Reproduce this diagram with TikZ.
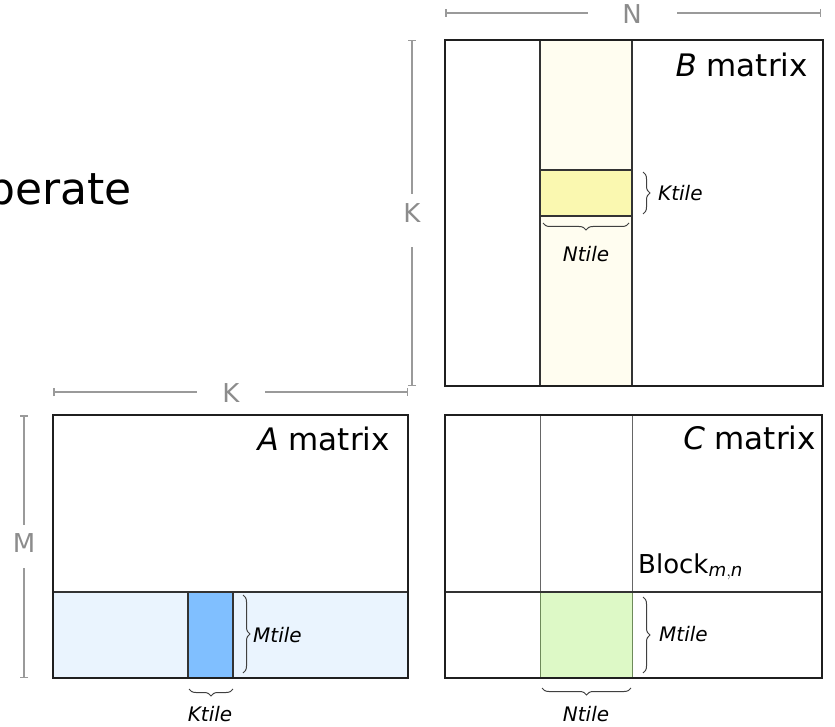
\documentclass[tikz,border=0pt]{standalone}
\usepackage{fontspec}
\setmainfont{DejaVu Sans}
\usetikzlibrary{decorations.pathreplacing,arrows.meta}
\definecolor{dimgray}{HTML}{9A9A9A}
\definecolor{dimtxt}{HTML}{8C8C8C}
\definecolor{bstripe}{HTML}{FFFDF0}
\definecolor{yellowblk}{HTML}{FAF8B0}
\definecolor{astripe}{HTML}{EAF4FE}
\definecolor{blueblk}{HTML}{80BFFF}
\definecolor{greenblk}{HTML}{DDF9C6}
\definecolor{greenedge}{HTML}{6E8A5A}
\begin{document}
\begin{tikzpicture}[x=1pt,y=-1pt,
  frame/.style={draw=black!88, line width=2pt},
  inner/.style={draw=black!80, line width=1.4pt},
  thinline/.style={draw=black!60, line width=0.9pt},
  dimline/.style={draw=dimgray, line width=1.5pt, {Bar[width=8pt,line width=1.5pt]}-},
  dimtext/.style={text=dimtxt, font=\fontsize{26}{26}\selectfont, inner sep=0pt},
  mlabel/.style={font=\fontsize{31}{31}\selectfont, inner sep=0pt, anchor=base east},
  tbrace/.style={decorate, decoration={brace, amplitude=7pt}, draw=black!75, line width=1pt},
  tlabel/.style={font=\fontsize{20}{20}\selectfont\itshape, inner sep=0pt}]
\useasboundingbox (0,0) rectangle (835,727);

% ---- big text fragment
\node[font=\fontsize{44}{44}\selectfont, inner sep=0pt, anchor=base west] (frag) at (-13,205) {perate};

% ---- B matrix
\fill[bstripe] (540,40) rectangle (632,386);
\draw[inner] (540,40) -- (540,386);
\draw[inner] (632,40) -- (632,386);
\draw[inner, fill=yellowblk] (540,170) rectangle (632,216);
\draw[frame] (445,40) rectangle (823,386);
\node[mlabel] (Blab) at (808,77) {\textit{B} matrix};

\coordinate (kb1) at (643,172); \coordinate (kb2) at (643,214);
\draw[tbrace] (kb1) -- (kb2);
\node[tlabel, anchor=base west] (BK) at (658,201) {Ktile};
\coordinate (nb1) at (629,223); \coordinate (nb2) at (543,223);
\draw[tbrace] (nb1) -- (nb2);
\node[tlabel, anchor=base] (BN) at (586,262) {Ntile};

% ---- A matrix
\fill[astripe] (53,592) rectangle (408,678);
\draw[inner] (53,592) -- (408,592);
\draw[inner, fill=blueblk] (188,592) rectangle (233,678);
\draw[frame] (53,415) rectangle (408,678);
\node[mlabel] (Alab) at (390,450) {\textit{A} matrix};

\coordinate (ma1) at (243,595); \coordinate (ma2) at (243,673);
\draw[tbrace] (ma1) -- (ma2);
\node[tlabel, anchor=base west] (AM) at (253,642) {Mtile};
\coordinate (ka1) at (233,689); \coordinate (ka2) at (189,689);
\draw[tbrace] (ka1) -- (ka2);
\node[tlabel, anchor=base] (AK) at (210,721) {Ktile};

% ---- C matrix
\draw[thinline] (540,415) -- (540,678);
\draw[thinline] (632,415) -- (632,678);
\draw[draw=greenedge, line width=1pt, fill=greenblk] (540,592) rectangle (632,678);
\draw[inner] (445,592) -- (822,592);
\draw[frame] (445,415) rectangle (822,678);
\node[mlabel] (Clab) at (816,449) {\textit{C} matrix};
\node[font=\fontsize{26}{26}\selectfont, inner sep=0pt, anchor=base west] (blk) at (638,573) {Block$_{\mathit{m,n}}$};

\coordinate (mc1) at (643,597); \coordinate (mc2) at (643,673);
\draw[tbrace] (mc1) -- (mc2);
\node[tlabel, anchor=base west] (CM) at (659,641) {Mtile};
\coordinate (nc1) at (631,688); \coordinate (nc2) at (542,688);
\draw[tbrace] (nc1) -- (nc2);
\node[tlabel, anchor=base] (CN) at (586,721) {Ntile};

% ---- dimension lines
\node[dimtext] (dN) at (632,14) {N};
\coordinate (n1) at (445,13); \coordinate (n2) at (821,13);
\coordinate (n1g) at (588,13); \coordinate (n2g) at (677,13);
\draw[dimline] (n1) -- (n1g);
\draw[dimline] (n2) -- (n2g);

\node[dimtext] (dKB) at (412,213) {K};
\coordinate (k1) at (412,40); \coordinate (k2) at (412,386);
\coordinate (k1g) at (412,194); \coordinate (k2g) at (412,247);
\draw[dimline] (k1) -- (k1g);
\draw[dimline] (k2) -- (k2g);

\node[dimtext] (dKA) at (231,393) {K};
\coordinate (ka3) at (53,392); \coordinate (ka4) at (408,392);
\coordinate (ka3g) at (197,392); \coordinate (ka4g) at (265,392);
\draw[dimline] (ka3) -- (ka3g);
\draw[dimline] (ka4) -- (ka4g);

\node[dimtext] (dM) at (24,543) {M};
\coordinate (m1) at (24,415); \coordinate (m2) at (24,678);
\coordinate (m1g) at (24,525); \coordinate (m2g) at (24,568);
\draw[dimline] (m1) -- (m1g);
\draw[dimline] (m2) -- (m2g);
\end{tikzpicture}
\end{document}
